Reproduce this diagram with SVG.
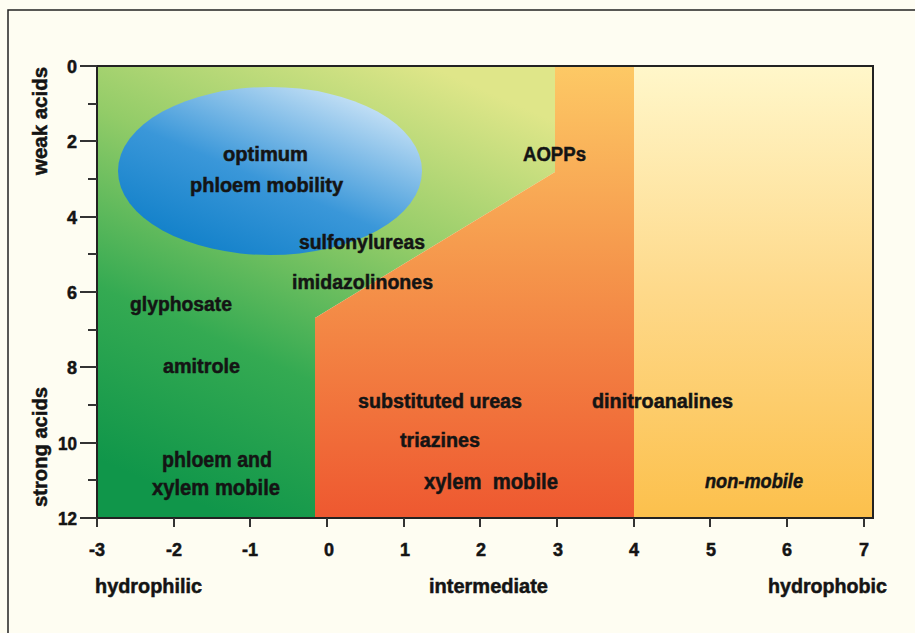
<svg xmlns="http://www.w3.org/2000/svg" width="915" height="633" viewBox="0 0 915 633">
<defs>
<linearGradient id="gGreen" gradientUnits="userSpaceOnUse" x1="430" y1="66" x2="230" y2="518">
<stop offset="0" stop-color="#dfe689"/>
<stop offset="0.35" stop-color="#93cc68"/>
<stop offset="0.68" stop-color="#34aa52"/>
<stop offset="1" stop-color="#10964a"/>
</linearGradient>
<linearGradient id="gOrange" gradientUnits="userSpaceOnUse" x1="0" y1="66" x2="0" y2="518">
<stop offset="0" stop-color="#fdc965"/>
<stop offset="0.45" stop-color="#f5954b"/>
<stop offset="1" stop-color="#ee5830"/>
</linearGradient>
<linearGradient id="gYellow" gradientUnits="userSpaceOnUse" x1="0" y1="66" x2="0" y2="518">
<stop offset="0" stop-color="#fff7ca"/>
<stop offset="0.5" stop-color="#fed98a"/>
<stop offset="1" stop-color="#fcc04c"/>
</linearGradient>
<linearGradient id="gBlue" x1="0.85" y1="0.1" x2="0.2" y2="0.95">
<stop offset="0" stop-color="#c6e1f6"/>
<stop offset="0.55" stop-color="#3a97d9"/>
<stop offset="1" stop-color="#1180c9"/>
</linearGradient>
<style>
text{font-family:"Liberation Sans","Arial",sans-serif;font-weight:bold;fill:#141414;stroke:#141414;stroke-width:0.5}
.tick{font-size:18px}
.lab{font-size:20px}
.big{font-size:22px}
.ax{stroke:#333;stroke-width:2;fill:none}
</style>
</defs>
<rect x="0" y="0" width="915" height="633" fill="#fefdf2"/>
<path d="M8,633 V10 H915" fill="none" stroke="#222" stroke-width="1.5"/>

<g id="regions">
<polygon id="green" points="97,66 555,66 555,172 315,318 315,518 97,518" fill="url(#gGreen)"/>
<polygon id="orange" points="555,66 634,66 634,518 315,518 315,318 555,172" fill="url(#gOrange)"/>
<rect id="yellow" x="634" y="66" width="239" height="452" fill="url(#gYellow)"/>
<ellipse id="optimum-ellipse" cx="270" cy="171" rx="152" ry="84" fill="url(#gBlue)"/>
<rect x="97" y="66" width="776" height="452" fill="none" stroke="#222" stroke-width="2"/>
</g>

<g id="axes">
<path class="ax" d="M80,66H97 M88,104H97 M80,141H97 M88,179H97 M80,217H97 M88,254H97 M80,292H97 M88,330H97 M80,367H97 M88,405H97 M80,443H97 M88,480H97 M80,518H97"/>
<path class="ax" d="M97,518V527 M174,518V527 M250,518V527 M327,518V527 M404,518V527 M480,518V527 M557,518V527 M634,518V527 M710,518V527 M787,518V527 M864,518V527"/>
<g class="tick" text-anchor="end">
<text x="77" y="73">0</text>
<text x="77" y="148">2</text>
<text x="77" y="224">4</text>
<text x="77" y="299">6</text>
<text x="77" y="374">8</text>
<text x="77" y="450" textLength="19" lengthAdjust="spacingAndGlyphs">10</text>
<text x="77" y="525" textLength="19" lengthAdjust="spacingAndGlyphs">12</text>
</g>
<g class="tick" text-anchor="middle">
<text x="97" y="556">-3</text>
<text x="174" y="556">-2</text>
<text x="250" y="556">-1</text>
<text x="329" y="556">0</text>
<text x="405" y="556">1</text>
<text x="481" y="556">2</text>
<text x="558" y="556">3</text>
<text x="634" y="556">4</text>
<text x="711" y="556">5</text>
<text x="787" y="556">6</text>
<text x="864" y="556">7</text>
</g>
<text class="lab" transform="translate(47,175) rotate(-90)" textLength="108" lengthAdjust="spacingAndGlyphs" font-size="21">weak acids</text>
<text class="lab" transform="translate(47,507) rotate(-90)" textLength="120" lengthAdjust="spacingAndGlyphs" font-size="21">strong acids</text>
<text class="lab" x="95" y="593" textLength="107" lengthAdjust="spacingAndGlyphs">hydrophilic</text>
<text class="lab" x="429" y="593" textLength="119" lengthAdjust="spacingAndGlyphs">intermediate</text>
<text class="lab" x="768" y="593" textLength="119" lengthAdjust="spacingAndGlyphs">hydrophobic</text>
</g>

<g id="labels">
<text class="lab" x="223" y="161" textLength="85" lengthAdjust="spacingAndGlyphs">optimum</text>
<text class="lab" x="190" y="192" textLength="153" lengthAdjust="spacingAndGlyphs">phloem mobility</text>
<text class="lab" x="299" y="249" textLength="126" lengthAdjust="spacingAndGlyphs">sulfonylureas</text>
<text class="lab" x="292" y="289" textLength="141" lengthAdjust="spacingAndGlyphs">imidazolinones</text>
<text class="lab" x="523" y="161" textLength="63" lengthAdjust="spacingAndGlyphs">AOPPs</text>
<text class="lab" x="130" y="311" textLength="102" lengthAdjust="spacingAndGlyphs">glyphosate</text>
<text class="lab" x="163" y="373" textLength="77" lengthAdjust="spacingAndGlyphs">amitrole</text>
<text class="big" x="162" y="467" textLength="110" lengthAdjust="spacingAndGlyphs">phloem and</text>
<text class="big" x="152" y="495" textLength="128" lengthAdjust="spacingAndGlyphs">xylem mobile</text>
<text class="lab" x="358" y="408" textLength="164" lengthAdjust="spacingAndGlyphs">substituted ureas</text>
<text class="lab" x="400" y="447" textLength="80" lengthAdjust="spacingAndGlyphs">triazines</text>
<text class="big" x="424" y="489" textLength="134" lengthAdjust="spacingAndGlyphs" xml:space="preserve">xylem  mobile</text>
<text class="lab" x="592" y="408" textLength="141" lengthAdjust="spacingAndGlyphs">dinitroanalines</text>
<text class="lab" x="705" y="488" font-style="italic" textLength="98" lengthAdjust="spacingAndGlyphs">non-mobile</text>
</g>
</svg>
